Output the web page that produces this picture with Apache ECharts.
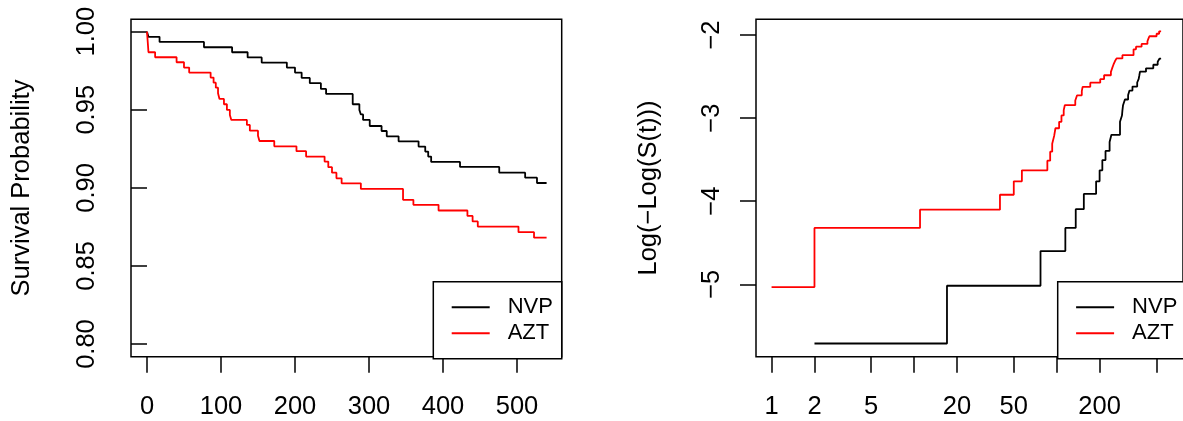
<!DOCTYPE html>
<html><head><meta charset="utf-8">
<script src="https://cdn.jsdelivr.net/npm/echarts@6/dist/echarts.min.js"></script>
<style>html,body{margin:0;padding:0;background:#fff}#c{width:1183px;height:421px}</style>
</head><body><div id="c"></div>
<script>
// Kaplan-Meier estimates (time in days, survival probability)
const groups = ['NVP', 'AZT'];
const nvpTime = [0,2,17,77,115,136,155,189,200,209,220,235,242,278,287,289,292,301,317,324,340,367,376,380,384,423,476,511,527,540];
const nvpSurv = [1,0.9967,0.9934,0.9900,0.9868,0.9835,0.9802,0.9770,0.9738,0.9704,0.9670,0.9633,0.9601,0.9535,0.9499,0.9470,0.9435,0.9396,0.9364,0.9330,0.9298,0.9264,0.9232,0.9200,0.9166,0.9134,0.9097,0.9065,0.9031,0.9031];
const aztTime = [0,1,2,11,40,50,57,86,90,93,96,98,104,108,112,114,135,139,150,152,172,202,215,240,245,250,256,263,289,346,360,394,433,440,447,502,523,540];
const aztSurv = [1,0.9935,0.9868,0.9836,0.9804,0.9770,0.9738,0.9706,0.9673,0.9641,0.9606,0.9569,0.9535,0.9499,0.9467,0.9435,0.9403,0.9366,0.9334,0.9300,0.9266,0.9235,0.9200,0.9168,0.9132,0.9097,0.9061,0.9029,0.8993,0.8923,0.8891,0.8855,0.8820,0.8785,0.8752,0.8716,0.8681,0.8681];

// tick values / labels
const leftXTicks = [0,100,200,300,400,500];
const leftYTicks = [0.80,0.85,0.90,0.95,1.00];
const rightXTicks = [1,2,5,10,20,50,100,200,500];
const rightXLabels = [1,2,5,20,50,200];
const rightYTicks = [-5,-4,-3,-2];

const FONT = 'Liberation Sans, Arial, sans-serif';
const km = (t, s) => t.map((x, i) => [x, s[i]]);
const cloglog = (t, s) => t.map((x, i) => [x, s[i]]).filter(p => p[1] < 1).map(p => [p[0], Math.log(-Math.log(p[1]))]);

const tickStyle = {show: true, inside: false, length: 16, lineStyle: {color: '#000', width: 1.5}};
const labelBase = {color: '#000', fontSize: 25.5, fontFamily: FONT};

function legendAt(left) {
  return {
    data: groups.map(n => ({name: n, icon: 'rect'})),
    orient: 'vertical', left: left, top: 281.7,
    padding: [14.5, 8.8, 14.5, 18.4],
    itemWidth: 38, itemHeight: 2, itemGap: 4,
    borderColor: '#000', borderWidth: 1.5, backgroundColor: '#fff',
    selectedMode: false,
    textStyle: {color: '#000', fontSize: 22, lineHeight: 21, fontFamily: FONT, padding: [0, 0, 0, 13]}
  };
}

const chart = echarts.init(document.getElementById('c'), null, {renderer: 'canvas'});
chart.setOption({
  animation: false,
  backgroundColor: '#fff',
  grid: [
    {left: 131, top: 19.3, width: 430.7, height: 337.4, show: true, borderColor: '#000', borderWidth: 1.5, backgroundColor: 'transparent'},
    {left: 756, top: 19.3, width: 430.7, height: 337.4, show: true, borderColor: '#000', borderWidth: 1.5, backgroundColor: 'transparent'}
  ],
  legend: [legendAt(433.3), legendAt(1057.7)],
  xAxis: [
    {gridIndex: 0, type: 'value', min: -21.6, max: 560.4,
     axisLine: {show: false}, splitLine: {show: false},
     axisTick: Object.assign({customValues: leftXTicks}, tickStyle),
     axisLabel: Object.assign({customValues: leftXTicks, margin: 37}, labelBase)},
    {gridIndex: 1, type: 'log', logBase: 10, min: 0.7778, max: 769,
     axisLine: {show: false}, splitLine: {show: false},
     axisTick: Object.assign({customValues: rightXTicks}, tickStyle),
     axisLabel: Object.assign({customValues: rightXLabels, margin: 37,
       formatter: v => String(Number(v.toPrecision(6)))}, labelBase)}
  ],
  yAxis: [
    {gridIndex: 0, type: 'value', min: 0.7919, max: 1.0079,
     name: 'Survival Probability', nameLocation: 'middle', nameRotate: 90, nameGap: 96,
     nameTextStyle: {color: '#000', fontSize: 25.5, fontFamily: FONT},
     axisLine: {show: false}, splitLine: {show: false},
     axisTick: Object.assign({customValues: leftYTicks}, tickStyle),
     axisLabel: Object.assign({customValues: leftYTicks, margin: 31, rotate: 90,
       formatter: v => v.toFixed(2)}, labelBase)},
    {gridIndex: 1, type: 'value', min: -5.871, max: -1.811,
     name: 'Log(\u2212Log(S(t)))', nameLocation: 'middle', nameRotate: 90, nameGap: 94,
     nameTextStyle: {color: '#000', fontSize: 25.5, fontFamily: FONT},
     axisLine: {show: false}, splitLine: {show: false},
     axisTick: Object.assign({customValues: rightYTicks}, tickStyle),
     axisLabel: Object.assign({customValues: rightYTicks, margin: 31, rotate: 90,
       formatter: v => (v < 0 ? '\u2212' + Math.abs(Math.round(v)) : String(Math.round(v)))}, labelBase)}
  ],
  series: [
    {name: 'NVP', type: 'line', xAxisIndex: 0, yAxisIndex: 0, step: 'end', showSymbol: false, color: '#000',
     lineStyle: {color: '#000', width: 1.8}, data: km(nvpTime, nvpSurv)},
    {name: 'AZT', type: 'line', xAxisIndex: 0, yAxisIndex: 0, step: 'end', showSymbol: false, color: '#ff0000',
     lineStyle: {color: '#ff0000', width: 1.8}, data: km(aztTime, aztSurv)},
    {name: 'NVP', type: 'line', xAxisIndex: 1, yAxisIndex: 1, step: 'end', showSymbol: false, color: '#000',
     lineStyle: {color: '#000', width: 1.8}, data: cloglog(nvpTime, nvpSurv)},
    {name: 'AZT', type: 'line', xAxisIndex: 1, yAxisIndex: 1, step: 'end', showSymbol: false, color: '#ff0000',
     lineStyle: {color: '#ff0000', width: 1.8}, data: cloglog(aztTime, aztSurv)}
  ]
});
</script>
</body></html>
